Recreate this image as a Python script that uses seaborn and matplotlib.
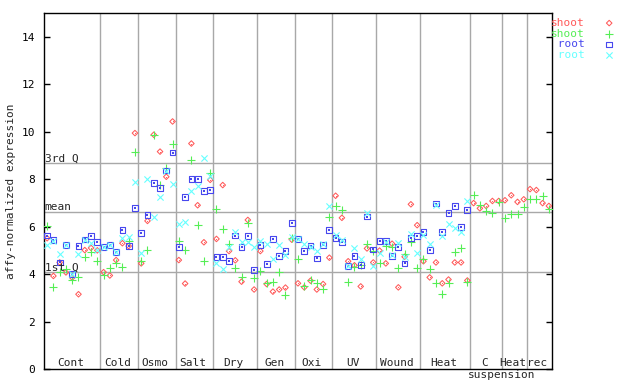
import numpy as np
import pandas as pd
import matplotlib
matplotlib.use("Agg")
import matplotlib.pyplot as plt
import seaborn as sns

# groups along the x axis and how many samples each one has
groups = ["Cont", "Cold", "Osmo", "Salt", "Dry", "Gen", "Oxi", "UV", "Wound", "Heat", "C", "Heat", "rec"]
group_sizes = [9, 6, 6, 6, 7, 6, 6, 7, 7, 8, 5, 4, 4]

# one value per sample
shoot_1 = [5.51, 3.92, 4.49, 4.07, 3.85, 3.15, 5.01, 5.10, 5.00,
           4.08, 3.94, 4.59, 5.30, 5.18, 9.94,
           4.45, 6.24, 9.87, 9.16, 8.10, 10.43,
           4.59, 3.60, 9.50, 6.90, 5.34, 7.97,
           5.48, 7.75, 4.97, 4.58, 3.68, 6.28, 3.35,
           4.97, 3.58, 3.26, 3.35, 3.43, 5.45,
           3.61, 3.44, 3.72, 3.35, 3.58, 4.69,
           7.30, 6.37, 4.54, 4.37, 3.48, 5.08, 4.49,
           4.99, 4.45, 5.28, 3.44, 4.73, 6.94, 6.06,
           4.54, 3.86, 4.49, 3.61, 3.77, 4.49, 4.49, 3.73,
           6.99, 6.77, 6.87, 7.08, 7.08,
           7.11, 7.32, 7.04, 7.15,
           7.58, 7.54, 6.99, 6.87]
shoot_2 = [6.03, 3.44, 4.07, 4.20, 3.73, 3.87, 4.73, 4.93, 4.55,
           3.96, 4.24, 4.45, 4.30, 5.39, 9.14,
           4.54, 5.01, 9.87, 7.75, 8.48, 9.46,
           5.38, 5.01, 8.82, 6.06, 4.54, 8.26,
           6.73, 5.90, 5.25, 4.25, 3.89, 6.14, 3.82,
           4.15, 3.62, 3.65, 4.10, 3.11, 5.50,
           4.62, 3.49, 3.75, 3.63, 3.35, 6.39,
           6.86, 6.70, 3.65, 4.30, 4.37, 5.27, 4.97,
           4.45, 5.18, 5.13, 4.24, 4.83, 5.34, 4.24,
           4.62, 4.20, 3.61, 3.18, 3.61, 4.92, 5.10, 3.65,
           7.32, 6.93, 6.66, 6.56, 7.03,
           6.35, 6.52, 6.52, 6.82,
           7.15, 7.15, 7.30, 6.73]
nan = np.nan
root_1 = [5.62, 5.44, 4.49, 5.24, 4.00, 5.17, 5.46, 5.61, 5.34,
          5.14, 5.24, 4.92, 5.85, 5.18, 6.77,
          5.72, 6.48, 7.85, 7.63, 8.36, 9.12,
          5.13, 7.24, 8.02, 8.02, 7.50, 7.55,
          4.72, 4.72, 4.54, 5.62, 5.13, 5.59, 4.18,
          5.21, 4.41, 5.47, 4.75, 4.97, 6.16,
          5.48, 4.96, 5.20, 4.66, 5.22, 5.85,
          5.51, 5.34, 4.35, 4.75, 4.37, 6.42, 5.04,
          5.38, 5.38, 4.75, 5.13, 4.45, 5.51, 5.59,
          5.76, 5.01, 6.97, 5.76, 6.56, 6.86, 5.97, 6.69,
          nan, nan, nan, nan, nan,
          nan, nan, nan, nan,
          nan, nan, nan, nan]
root_2 = [5.23, 5.41, 4.85, 5.24, 4.02, 4.83, 5.44, 5.32, 5.00,
          5.12, 5.24, 4.92, 5.51, 5.58, 7.89,
          4.87, 8.00, 6.42, 7.25, 8.35, 7.80,
          6.11, 6.20, 7.48, 7.72, 8.87, 8.14,
          4.45, 4.20, 5.15, 5.79, 5.35, 5.35, 5.15,
          5.40, 5.26, 4.62, 5.22, 4.79, 5.55,
          5.48, 5.27, 5.13, 4.97, 5.28, 6.87,
          5.65, 5.44, 4.35, 5.10, 4.62, 6.56, 4.34,
          4.87, 5.36, 4.80, 5.30, 4.73, 5.69, 4.87,
          5.65, 5.25, 6.90, 5.62, 6.11, 5.93, 5.76, 7.08,
          nan, nan, nan, nan, nan,
          nan, nan, nan, nan,
          nan, nan, nan, nan]

q1, q_mean, q3 = 4.09, 6.63, 8.69

df = pd.DataFrame({"shoot_1": shoot_1, "shoot_2": shoot_2,
                   "root_1": root_1, "root_2": root_2})
df["sample"] = np.arange(len(df))

RED, GREEN, BLUE, CYAN = "#ff5a5a", "#55ee55", "#4848ee", "#66ffff"
GRID = "#a8a8a8"

sns.set_theme(style="white")
plt.rcParams["font.family"] = ["DejaVu Sans Mono"]
plt.rcParams["font.size"] = 8

fig = plt.figure(figsize=(6.4, 3.84), dpi=100)
ax = fig.add_axes([44 / 640, 1 - 369 / 384, 508 / 640, 356 / 384])

# group separators and quartile lines
edges = np.cumsum(group_sizes) - 0.5
for e in edges[:-1]:
    ax.axvline(e, color=GRID, lw=1, zorder=0)
for q in (q1, q_mean, q3):
    ax.axhline(q, color=GRID, lw=1, zorder=0)

sns.scatterplot(data=df, x="sample", y="shoot_1", ax=ax, marker="D", s=8,
                facecolor="none", edgecolor=RED, linewidth=0.75, zorder=3)
h_red = ax.collections[-1]
sns.scatterplot(data=df, x="sample", y="shoot_1", ax=ax, marker="o", s=0.5,
                facecolor=RED, edgecolor=RED, linewidth=0, zorder=3)
sns.scatterplot(data=df, x="sample", y="shoot_2", ax=ax, marker="+", s=26,
                color=GREEN, linewidth=0.8, zorder=3)
h_green = ax.collections[-1]
sns.scatterplot(data=df, x="sample", y="root_1", ax=ax, marker="s", s=17,
                facecolor="none", edgecolor=BLUE, linewidth=0.8, zorder=3)
h_blue = ax.collections[-1]
sns.scatterplot(data=df, x="sample", y="root_1", ax=ax, marker="s", s=0.7,
                facecolor=BLUE, edgecolor=BLUE, linewidth=0, zorder=3)
sns.scatterplot(data=df, x="sample", y="root_2", ax=ax, marker="x", s=20,
                color=CYAN, linewidth=0.8, zorder=3)
h_cyan = ax.collections[-1]

ax.set_xlim(-0.5, len(df) - 0.5)
ax.set_ylim(0, 15)
ax.set_xticks([])
ax.set_yticks(range(0, 15, 2))
ax.tick_params(axis="y", direction="in", length=4, width=1, left=True,
               right=True, labelsize=8, pad=6.5, colors="black")
ax.set_xlabel("")
ax.set_ylabel("")
for sp in ax.spines.values():
    sp.set_visible(True)
    sp.set_color("black")
    sp.set_linewidth(1)

# quartile captions
for txt, q in (("1st Q", q1), ("mean", q_mean), ("3rd Q", q3)):
    ax.text(-0.4, q + 0.06, txt, fontsize=8, va="baseline", ha="left")

# category labels inside the plot
starts = np.concatenate([[0], np.cumsum(group_sizes)[:-1]])
for name, st, n in zip(groups, starts, group_sizes):
    ax.text(st + (n - 1) / 2 - 0.3, 0.12, name, fontsize=8,
            ha="center", va="baseline")
ax.text(starts[10] + 4.5, -0.38, "suspension", fontsize=8,
        ha="center", va="baseline", clip_on=False)

fig.text(11.5 / 640, 1 - 191 / 384, "affy-normalized expression",
         rotation=90, ha="center", va="center", fontsize=8)

ax.legend([h_red, h_green, h_blue, h_cyan], ["shoot", "shoot", " root", " root"],
          loc="upper left", bbox_to_anchor=(551 / 640, 1 - 18 / 384),
          bbox_transform=fig.transFigure, frameon=False, markerfirst=False,
          labelspacing=0.06, handletextpad=1.2, handlelength=2.0, borderpad=0,
          borderaxespad=0, scatterpoints=1, fontsize=8,
          labelcolor=[RED, GREEN, BLUE, CYAN])

fig.savefig("out.png", dpi=100)
